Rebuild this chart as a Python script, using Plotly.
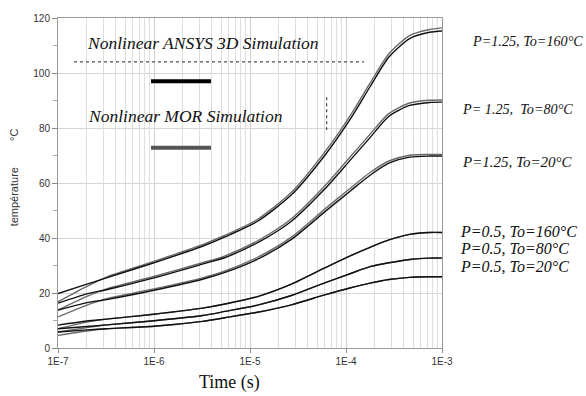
import plotly.graph_objects as go

# time grid (s)
time_s = [1e-7, 2e-7, 3.2e-7, 1e-6, 3.2e-6, 5.5e-6, 1.2e-5, 2.7e-5, 6e-5, 1.12e-4, 1.78e-4, 2.8e-4, 4.6e-4, 7.4e-4, 1e-3]

# ANSYS 3D (black)
ansys_p125_t160 = [19.8, 23.2, 25.5, 31.0, 37.0, 40.4, 46.1, 55.7, 70.0, 83.5, 95.0, 105.8, 112.5, 114.8, 115.3]
ansys_p125_t80 = [16.3, 19.7, 21.2, 25.5, 30.5, 32.9, 38.3, 46.1, 57.8, 68.5, 76.5, 84.3, 88.2, 89.3, 89.4]
ansys_p125_t20 = [13.8, 16.5, 17.6, 21.0, 25.0, 27.5, 32.3, 39.5, 49.5, 57.2, 62.8, 67.2, 69.4, 69.8, 69.8]
ansys_p05_t160 = [8.3, 9.8, 10.5, 12.3, 14.5, 16.0, 18.7, 23.2, 29.1, 33.6, 36.6, 39.3, 41.3, 42.0, 42.0]
ansys_p05_t80 = [7.0, 7.8, 8.4, 9.9, 11.8, 13.3, 15.6, 19.1, 23.7, 27.1, 29.6, 31.0, 32.2, 32.7, 32.7]
ansys_p05_t20 = [5.8, 6.6, 7.0, 7.9, 9.7, 11.0, 13.0, 15.7, 19.3, 21.9, 23.6, 24.9, 25.7, 25.9, 25.9]

# MOR (gray)
mor_p125_t160 = [16.8, 22.4, 25.8, 31.5, 37.6, 41.0, 46.8, 56.6, 71.2, 84.8, 96.3, 107.0, 113.6, 115.8, 116.4]
mor_p125_t80 = [13.8, 18.8, 21.5, 26.0, 31.0, 33.5, 39.0, 47.0, 58.9, 69.7, 77.7, 85.3, 89.1, 90.1, 90.2]
mor_p125_t20 = [11.3, 15.6, 17.9, 21.5, 25.5, 28.0, 33.0, 40.3, 50.5, 58.2, 63.8, 68.0, 70.1, 70.4, 70.4]
mor_p05_t160 = [7.0, 9.4, 10.5, 12.3, 14.5, 16.0, 18.7, 23.2, 29.1, 33.6, 36.6, 39.3, 41.3, 42.0, 42.0]
mor_p05_t80 = [5.8, 7.4, 8.4, 9.9, 11.8, 13.3, 15.6, 19.1, 23.7, 27.1, 29.6, 31.0, 32.2, 32.7, 32.7]
mor_p05_t20 = [4.6, 6.2, 7.0, 7.9, 9.7, 11.0, 13.0, 15.7, 19.3, 21.9, 23.6, 24.9, 25.7, 25.9, 25.9]

x_major = [1e-7, 1e-6, 1e-5, 1e-4, 1e-3]
x_major_text = ["1E-7", "1E-6", "1E-5", "1E-4", "1E-3"]
x_minor = [m * 10 ** e for e in range(-7, -3) for m in range(2, 10)]
y_ticks = [0, 20, 40, 60, 80, 100, 120]

case_labels = ["P=1.25, To=160°C", "P= 1.25,  To=80°C", "P=1.25, To=20°C",
               "P=0.5, To=160°C", "P=0.5, To=80°C", "P=0.5, To=20°C"]

fig = go.Figure()
mor_series = [mor_p125_t160, mor_p125_t80, mor_p125_t20, mor_p05_t160, mor_p05_t80, mor_p05_t20]
ansys_series = [ansys_p125_t160, ansys_p125_t80, ansys_p125_t20, ansys_p05_t160, ansys_p05_t80, ansys_p05_t20]
for ys in mor_series:
    fig.add_trace(go.Scatter(x=time_s, y=ys, mode="lines",
                             line=dict(color="#6a6a6a", width=1.4, shape="spline", smoothing=0.7),
                             showlegend=False, hoverinfo="skip"))
for ys in ansys_series:
    fig.add_trace(go.Scatter(x=time_s, y=ys, mode="lines",
                             line=dict(color="#111111", width=1.4, shape="spline", smoothing=0.7),
                             showlegend=False, hoverinfo="skip"))

def px_x(px):
    return (px - 58) / 384.0

def px_y(py):
    return (348 - py) / 333.0

shapes = [
    dict(type="line", xref="paper", yref="paper", x0=px_x(74), x1=px_x(364), y0=px_y(59.3), y1=px_y(59.3),
         line=dict(color="#222", width=1, dash="dot")),
    dict(type="line", xref="paper", yref="paper", x0=px_x(151), x1=px_x(211), y0=px_y(78.7), y1=px_y(78.7),
         line=dict(color="#000", width=4)),
    dict(type="line", xref="paper", yref="paper", x0=px_x(151), x1=px_x(211), y0=px_y(146), y1=px_y(146),
         line=dict(color="#555", width=4)),
    dict(type="line", xref="paper", yref="paper", x0=px_x(326.7), x1=px_x(326.7), y0=px_y(95), y1=px_y(128),
         line=dict(color="#222", width=1, dash="dot")),
]

serif_it = dict(family="Liberation Serif", size=17.5, color="#111")
annotations = [
    dict(text="<i>Nonlinear ANSYS 3D Simulation</i>", x=px_x(85), y=px_y(40), font=serif_it),
    dict(text="<i>Nonlinear MOR Simulation</i>", x=px_x(86), y=px_y(114), font=serif_it),
]
label_pos = [(470, 38), (460, 107), (460, 160), (458, 230), (458, 248), (458, 266)]
label_size = [14.2, 14.2, 15, 16, 16, 16]
for lab, (lx, ly), fs in zip(case_labels, label_pos, label_size):
    annotations.append(dict(text="<i>" + lab + "</i>", x=px_x(lx), y=px_y(ly),
                            font=dict(family="Liberation Serif", size=fs, color="#111")))
annotations.append(dict(text="Time (s)", x=px_x(229), y=px_y(383), xanchor="center",
                        font=dict(family="Liberation Serif", size=18, color="#111")))
annotations.append(dict(text="température", x=px_x(14), y=px_y(196), xanchor="center", textangle=-90,
                        font=dict(family="Liberation Sans", size=11, color="#333")))
annotations.append(dict(text="°C", x=px_x(14), y=px_y(133), xanchor="center", textangle=-90,
                        font=dict(family="Liberation Sans", size=11, color="#333")))
for a in annotations:
    a.setdefault("xref", "paper")
    a.setdefault("yref", "paper")
    a.setdefault("xanchor", "left")
    a.setdefault("yanchor", "middle")
    a["showarrow"] = False

fig.update_layout(
    width=586, height=396,
    margin=dict(l=58, r=144, t=15, b=48),
    paper_bgcolor="white", plot_bgcolor="white",
    shapes=shapes, annotations=annotations,
    xaxis=dict(type="log", range=[-7, -3], tickmode="array", tickvals=x_major, ticktext=x_major_text,
               showgrid=True, gridcolor="#cfcfcf", gridwidth=1,
               minor=dict(tickmode="array", tickvals=x_minor, showgrid=True, gridcolor="#dedede", ticks=""),
               ticks="outside", ticklen=4, tickcolor="#888",
               showline=True, linecolor="#999", mirror=True, zeroline=False,
               tickfont=dict(family="Liberation Sans", size=10, color="#333")),
    yaxis=dict(range=[0, 120], tickmode="array", tickvals=y_ticks,
               showgrid=True, gridcolor="#d6d6d6", gridwidth=1,
               minor=dict(dtick=10, ticks="outside", ticklen=4, tickcolor="#aaa", showgrid=False),
               ticks="outside", ticklen=5, tickcolor="#888",
               showline=True, linecolor="#999", mirror=True, zeroline=False,
               tickfont=dict(family="Liberation Sans", size=10, color="#333")),
)

fig.write_html("out.html")
